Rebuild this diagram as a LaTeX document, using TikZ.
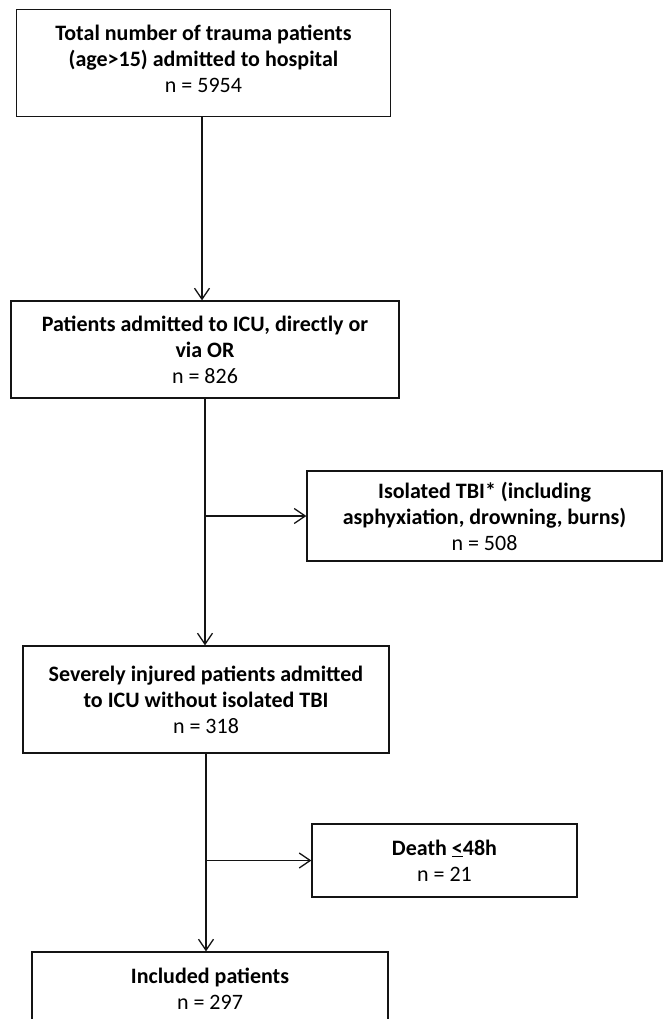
\documentclass[tikz,border=0pt]{standalone}
\usepackage{fontspec}
\setmainfont{Carlito}
\usepackage{tikz}
\usetikzlibrary{arrows.meta, positioning, calc}
\definecolor{mydark}{RGB}{20,20,20}
\tikzset{
  flowbox/.style={rectangle, draw=mydark, fill=white, align=center,
    font=\fontsize{22}{26}\selectfont, line width=1.3pt,
    inner sep=0pt},
  arrow/.style={-{Straight Barb[length=11pt, width=15pt, line width=1.3pt]},
    line width=1.3pt, color=mydark},
  line/.style={line width=1.3pt, color=mydark}
}

\begin{document}
\begin{tikzpicture}[x=1pt, y=-1pt]
  \useasboundingbox (0,0) rectangle (664,1019);
  \clip (0,0) rectangle (664,1019);

  % Main column of boxes
  \node[flowbox, minimum width=374pt, minimum height=107pt] (total) at (203.5, 63)
    {\textbf{Total number of trauma patients}\\\textbf{(age>15) admitted to hospital}\\n = 5954\\[-18pt]};
  \node[flowbox, minimum width=388pt, minimum height=97pt] (icu) at (205, 349.5)
    {\textbf{Patients admitted to ICU, directly or}\\\textbf{via OR}\\n = 826};
  \node[flowbox, minimum width=366pt, minimum height=107pt] (severe) at (206, 699.5)
    {\textbf{Severely injured patients admitted}\\\textbf{to ICU without isolated TBI}\\n = 318};
  \node[flowbox, minimum width=356pt, minimum height=74pt] (incl) at (210, 989)
    {\textbf{Included patients}\\n = 297};

  % Exclusion boxes
  \node[flowbox, minimum width=355pt, minimum height=90pt] (tbi) at (484.5, 516)
    {\textbf{Isolated TBI* (including}\\\textbf{asphyxiation, drowning, burns)}\\n = 508};
  \node[flowbox, minimum width=265pt, minimum height=73pt] (death) at (444.5, 860.5)
    {\textbf{Death \underline{<}48h}\\n = 21};

  % Flow arrows
  \draw[arrow] (total.south -| 202,0) -- (icu.north -| 202,0);
  \draw[arrow] (icu.south) -- (severe.north -| icu.south);
  \draw[arrow] (severe.south) -- (incl.north -| severe.south);

  % Branches to exclusions
  \coordinate (tbisplit) at (icu.south |- tbi.west);
  \draw[arrow] (tbisplit) -- (tbi.west);
  \coordinate (deathsplit) at (severe.south |- death.west);
  \draw[arrow] (deathsplit) -- (death.west);
\end{tikzpicture}
\end{document}
